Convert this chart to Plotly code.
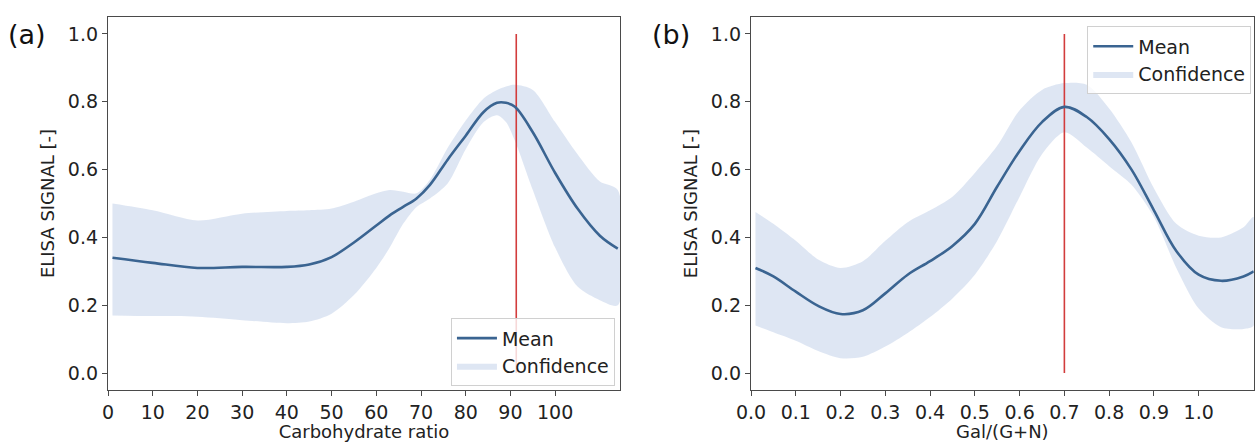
import plotly.graph_objects as go
from plotly.subplots import make_subplots

# Panel (a): ELISA signal vs carbohydrate ratio
carb_x = [1, 10, 20, 30, 40, 45, 50, 55, 60, 63, 66, 69, 72, 76, 80, 84, 87, 89, 91, 95, 100, 105, 110, 114]
carb_mean = [0.34, 0.325, 0.31, 0.313, 0.313, 0.32, 0.342, 0.385, 0.435, 0.465, 0.49, 0.515, 0.555, 0.63,
             0.70, 0.77, 0.797, 0.797, 0.785, 0.71, 0.59, 0.485, 0.405, 0.367]
carb_upper = [0.50, 0.48, 0.45, 0.47, 0.478, 0.48, 0.485, 0.505, 0.53, 0.54, 0.535, 0.53, 0.57, 0.665,
              0.745, 0.81, 0.835, 0.845, 0.85, 0.835, 0.74, 0.645, 0.565, 0.54]
carb_lower = [0.17, 0.168, 0.166, 0.156, 0.147, 0.152, 0.175, 0.23, 0.31, 0.37, 0.44, 0.49, 0.515, 0.56,
              0.66, 0.74, 0.76, 0.74, 0.685, 0.54, 0.37, 0.255, 0.215, 0.20]
carb_opt = 91.3

# Panel (b): ELISA signal vs Gal/(G+N)
gal_x = [0.01, 0.05, 0.1, 0.15, 0.2, 0.25, 0.3, 0.35, 0.4, 0.45, 0.5, 0.55, 0.6, 0.65, 0.7, 0.75,
         0.8, 0.85, 0.9, 0.95, 1.0, 1.05, 1.1, 1.123]
gal_mean = [0.31, 0.285, 0.24, 0.198, 0.174, 0.185, 0.235, 0.29, 0.33, 0.375, 0.44, 0.55, 0.655, 0.74,
            0.785, 0.755, 0.69, 0.60, 0.48, 0.36, 0.29, 0.272, 0.285, 0.30]
gal_upper = [0.475, 0.44, 0.39, 0.335, 0.31, 0.33, 0.39, 0.445, 0.48, 0.52, 0.59, 0.67, 0.775, 0.835,
             0.855, 0.85, 0.78, 0.68, 0.545, 0.44, 0.405, 0.40, 0.43, 0.46]
gal_lower = [0.14, 0.12, 0.095, 0.065, 0.044, 0.048, 0.078, 0.118, 0.165, 0.22, 0.29, 0.39, 0.52, 0.645,
             0.71, 0.665, 0.61, 0.555, 0.46, 0.31, 0.19, 0.135, 0.13, 0.14]
gal_opt = 0.7

vline_y = [0.0, 1.0]

MEAN_COLOR = "#3a6491"
FILL_COLOR = "rgba(176,196,226,0.42)"
RED = "#d23c3c"
AXIS = "#4a4a4a"
FONT = "DejaVu Sans"

fig = make_subplots(rows=1, cols=2)


def add_panel(col, xs, mean, upper, lower, opt, legend):
    band_x = list(xs) + list(xs)[::-1]
    band_y = list(upper) + list(lower)[::-1]
    fig.add_trace(go.Scatter(x=band_x, y=band_y, fill="toself", fillcolor=FILL_COLOR,
                             line=dict(width=0, shape="spline", smoothing=0.8),
                             mode="lines", name="Confidence", legend=legend,
                             legendrank=2), row=1, col=col)
    fig.add_trace(go.Scatter(x=[opt, opt], y=vline_y, mode="lines",
                             line=dict(color=RED, width=1.6), showlegend=False),
                  row=1, col=col)
    fig.add_trace(go.Scatter(x=xs, y=mean, mode="lines", name="Mean", legend=legend,
                             line=dict(color=MEAN_COLOR, width=2.6, shape="spline", smoothing=1.0),
                             legendrank=1), row=1, col=col)


add_panel(1, carb_x, carb_mean, carb_upper, carb_lower, carb_opt, "legend")
add_panel(2, gal_x, gal_mean, gal_upper, gal_lower, gal_opt, "legend2")

axis_style = dict(showline=True, linecolor=AXIS, linewidth=1.3, mirror=True, ticks="outside",
                  ticklen=5, tickcolor=AXIS, showgrid=False, zeroline=False, automargin=False,
                  tickfont=dict(size=19, color="#222"))

fig.update_xaxes(**axis_style)
fig.update_yaxes(**axis_style)

fig.update_xaxes(domain=[108 / 1255, 620 / 1255], range=[0, 114.5], tickvals=list(range(0, 101, 10)),
                 title=dict(text="Carbohydrate ratio", font=dict(size=18, color="#222"), standoff=0),
                 row=1, col=1)
fig.update_xaxes(domain=[751 / 1255, 0.999], range=[0, 1.123],
                 tickvals=[i / 10 for i in range(11)], tickformat=".1f",
                 title=dict(text="Gal/(G+N)", font=dict(size=18, color="#222"), standoff=0),
                 row=1, col=2)
fig.update_yaxes(range=[-0.05, 1.05], tickvals=[0, 0.2, 0.4, 0.6, 0.8, 1.0], tickformat=".1f",
                 title=dict(text="ELISA SIGNAL [-]", font=dict(size=18, color="#222"), standoff=8))

legend_style = dict(bgcolor="rgba(255,255,255,0.8)", bordercolor="#d0d0d0", borderwidth=1,
                    font=dict(size=19, color="#222"), itemwidth=40, tracegroupgap=0)

fig.update_layout(
    width=1255, height=442,
    margin=dict(l=0, r=0, t=17, b=52),
    paper_bgcolor="white", plot_bgcolor="white",
    font=dict(family=FONT, color="#222"),
    legend=dict(x=0.49, xanchor="right", y=0.01, yanchor="bottom", **legend_style),
    legend2=dict(x=0.997, xanchor="right", y=0.975, yanchor="top", **legend_style),
    annotations=[
        dict(text="(a)", x=0.005, y=0.952, xref="paper", yref="paper", xanchor="left",
             yanchor="middle", showarrow=False, font=dict(size=27, color="#111")),
        dict(text="(b)", x=650 / 1255, y=0.952, xref="paper", yref="paper", xanchor="left",
             yanchor="middle", showarrow=False, font=dict(size=27, color="#111")),
    ],
)

# drop the default page margin so the figure sits at the window's corner
fig.write_html("out.html", config={"displayModeBar": False},
               post_script="document.body.style.margin='0';")
